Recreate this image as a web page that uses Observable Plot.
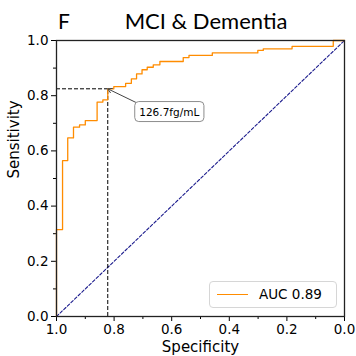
<!DOCTYPE html>
<html><head><meta charset="utf-8">
<script src="https://cdn.jsdelivr.net/npm/d3@7"></script>
<script src="https://cdn.jsdelivr.net/npm/@observablehq/plot@0.6"></script>
<style>
body{margin:0;background:#fff;}
#wrap{position:relative;width:356px;height:356px;overflow:hidden;}
#legend{position:absolute;left:209px;top:281px;width:128px;height:27px;box-sizing:border-box;border:1px solid #d6d6d6;border-radius:4px;background:rgba(255,255,255,0.85);font-family:"DejaVu Sans";font-size:13.5px;color:#000;}
#legend .swatch{position:absolute;left:7px;top:12px;width:31px;height:0;border-top:1.3px solid #ff8c00;}
#legend .lab{position:absolute;left:49px;top:4px;line-height:16px;white-space:nowrap;}
</style></head><body><div id="wrap"></div>
<script>
// ---- data ----
const titleLetter = "F";
const titleText = "MCI & Dementia";
const xLabel = "Specificity";
const yLabel = "Sensitivity";
const aucLabel = "AUC 0.89";
const cutoffLabel = "126.7fg/mL";
// ROC vertices (specificity, sensitivity), drawn as a step curve
const specificity = [1.0, 1.0, 0.979, 0.961, 0.941, 0.920, 0.900, 0.859, 0.839, 0.822, 0.801, 0.760, 0.740, 0.722, 0.703, 0.685, 0.664, 0.641, 0.560, 0.540, 0.459, 0.301, 0.282, 0.182, 0.039, 0.0];
const sensitivity = [0.0, 0.315, 0.565, 0.647, 0.686, 0.694, 0.710, 0.777, 0.785, 0.825, 0.833, 0.845, 0.861, 0.879, 0.894, 0.903, 0.912, 0.924, 0.938, 0.946, 0.955, 0.964, 0.970, 0.979, 1.0, 1.0];
const cutoffSpecificity = 0.822;
const cutoffSensitivity = 0.825;
const chanceSpecificity = [1.0, 0.0];
const chanceSensitivity = [0.0, 1.0];
const majorTicks = [0.0, 0.2, 0.4, 0.6, 0.8, 1.0];
const majorTickLabels = ["0.0", "0.2", "0.4", "0.6", "0.8", "1.0"];
const minorTicks = [0.1, 0.3, 0.5, 0.7, 0.9];

// ---- layout ----
const W = 356, H = 356;
const mL = 56, mR = 12, mT = 40, mB = 40;
const roc = specificity.map((s, i) => ({spec: s, sens: sensitivity[i]}));
const chance = chanceSpecificity.map((s, i) => ({spec: s, sens: chanceSensitivity[i]}));
const fmt = d => majorTickLabels[majorTicks.indexOf(d)];

const xs = Plot.scale({x: {domain: [1, 0], range: [mL, W - mR]}});
const ys = Plot.scale({y: {domain: [0, 1], range: [H - mB, mT]}});
const labDx = 61.5, labDy = 23.4;
const arrowStartX = xs.invert(xs.apply(cutoffSpecificity) + 32);
const arrowStartY = ys.invert(ys.apply(cutoffSensitivity) + 15.5);

const chart = Plot.plot({
  width: W, height: H,
  marginLeft: mL, marginRight: mR, marginTop: mT, marginBottom: mB,
  x: {domain: [1, 0]},
  y: {domain: [0, 1]},
  style: {fontFamily: "DejaVu Sans", fontSize: "13.5px", color: "#000", background: "#fff"},
  marks: [
    Plot.axisX({ticks: majorTicks, tickFormat: fmt, tickSize: 5, tickPadding: 3, label: null, stroke: "#000"}),
    Plot.axisX({ticks: minorTicks, tickFormat: () => "", tickSize: 3, label: null, stroke: "#000"}),
    Plot.axisY({ticks: majorTicks, tickFormat: fmt, tickSize: 5, tickPadding: 3, label: null, stroke: "#000"}),
    Plot.axisY({ticks: minorTicks, tickFormat: () => "", tickSize: 3, label: null, stroke: "#000"}),
    Plot.line(chance, {x: "spec", y: "sens", stroke: "#1a1a8c", strokeWidth: 1.1, strokeDasharray: "3,2"}),
    Plot.ruleY([cutoffSensitivity], {x1: 1, x2: cutoffSpecificity, stroke: "#000", strokeWidth: 1, strokeDasharray: "4,2"}),
    Plot.ruleX([cutoffSpecificity], {y1: 0, y2: cutoffSensitivity, stroke: "#000", strokeWidth: 1, strokeDasharray: "4,2"}),
    Plot.line(roc, {x: "spec", y: "sens", curve: "step-after", stroke: "#ff8c00", strokeWidth: 1.3}),
    Plot.frame({stroke: "#222", strokeWidth: 1.3}),
    Plot.arrow([0], {x1: arrowStartX, y1: arrowStartY, x2: cutoffSpecificity, y2: cutoffSensitivity, stroke: "#444", strokeWidth: 1, headLength: 7}),
    Plot.text([cutoffLabel], {x: cutoffSpecificity, y: cutoffSensitivity, text: d => d, dx: labDx, dy: labDy, fontSize: 10.5, fill: "#000"}),
    Plot.text([titleLetter], {frameAnchor: "top-left", text: d => d, dx: 7.5, dy: -11.7, lineAnchor: "bottom", textAnchor: "middle", fontFamily: "Lato", fontSize: 21, fill: "#000"}),
    Plot.text([titleText], {frameAnchor: "top", text: d => d, dx: 5.5, dy: -11.7, lineAnchor: "bottom", fontFamily: "Lato", fontSize: 22, fill: "#000"}),
    Plot.text([xLabel], {frameAnchor: "bottom", text: d => d, dy: 35.5, lineAnchor: "bottom", fontSize: 15, fill: "#000"}),
    Plot.text([yLabel], {frameAnchor: "left", text: d => d, dx: -42, rotate: -90, fontSize: 15, fill: "#000"})
  ]
});

const wrap = document.getElementById("wrap");
wrap.appendChild(chart);

// rounded box behind the cutoff annotation
const svg = d3.select(chart.tagName.toLowerCase() === "svg" ? chart : chart.querySelector("svg"));
svg.selectAll("text").each(function() {
  if (this.textContent === cutoffLabel) {
    const b = this.getBBox();
    const g = this.parentNode;
    const host = g.parentNode;
    const r = document.createElementNS("http://www.w3.org/2000/svg", "rect");
    const padX = 4.5, padY = 4;
    r.setAttribute("x", b.x - padX);
    r.setAttribute("y", b.y - padY);
    r.setAttribute("width", b.width + 2 * padX);
    r.setAttribute("height", b.height + 2 * padY);
    r.setAttribute("rx", 4);
    r.setAttribute("fill", "#fff");
    r.setAttribute("stroke", "#8c8c8c");
    r.setAttribute("stroke-width", 1);
    const t = this.getAttribute("transform");
    if (t) r.setAttribute("transform", t);
    g.insertBefore(r, this);
  }
});

// legend
const legend = document.createElement("div");
legend.id = "legend";
legend.innerHTML = '<div class="swatch"></div><div class="lab"></div>';
legend.querySelector(".lab").textContent = aucLabel;
wrap.appendChild(legend);
</script>
</body></html>
